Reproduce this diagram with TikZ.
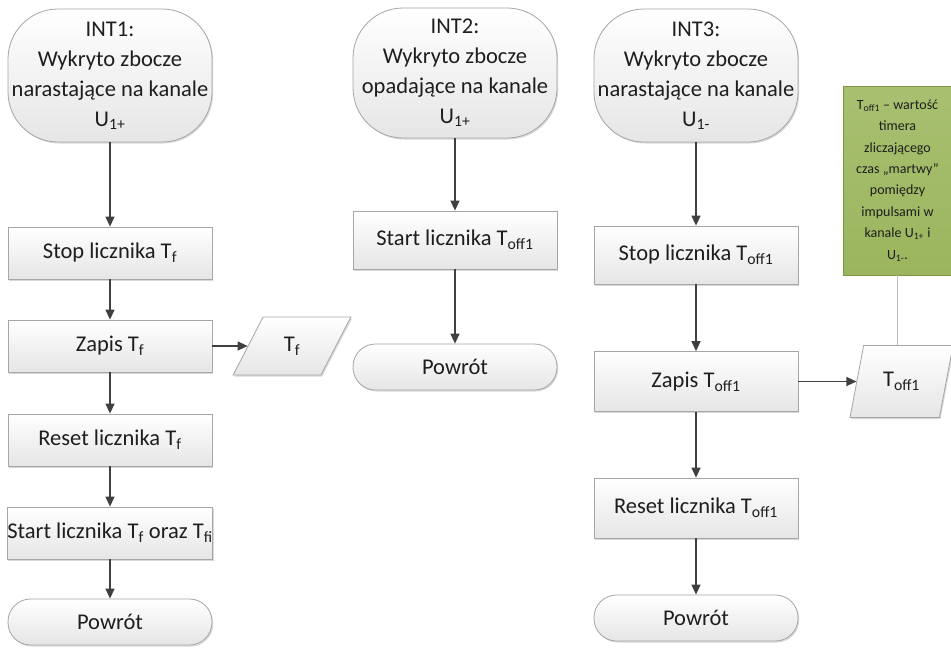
\documentclass[tikz,border=0pt]{standalone}
\usepackage{fontspec}
\setmainfont{Carlito}
\usetikzlibrary{arrows.meta,shapes.geometric,shadows}

\definecolor{edgegray}{HTML}{A6A6A6}
\definecolor{arrowgray}{HTML}{404040}
\definecolor{notegreen}{HTML}{9BB55E}
\definecolor{notegreenlight}{HTML}{A8C070}
\definecolor{noteedge}{HTML}{7D9645}
\definecolor{txt}{HTML}{1E1E1E}

\tikzset{
  base/.style={draw=edgegray, line width=0.8pt, top color=white, bottom color=black!10,
    text=txt, align=center, inner sep=0pt,
    font=\fontsize{22.5}{30}\selectfont,
    drop shadow={shadow xshift=1.2pt, shadow yshift=-1.5pt, opacity=0.25, fill=black!60}},
  procbox/.style={base, rectangle, minimum width=204pt},
  startbox/.style={base, rectangle, rounded corners=50pt, minimum width=204pt},
  endbox/.style={base, rectangle, rounded corners=22.5pt, minimum width=204pt, minimum height=45pt},
  databox/.style={base, trapezium, trapezium stretches=true},
  notebox/.style={rectangle, draw=noteedge, line width=0.8pt, top color=notegreenlight,
    bottom color=notegreen, text=txt, align=center, inner sep=0pt,
    font=\fontsize{14}{21.4}\selectfont},
  arr/.style={draw=arrowgray, line width=1.3pt, -{Triangle[length=10pt,width=9pt]}},
  noteline/.style={draw=black!25, line width=1pt}
}

\begin{document}
\begin{tikzpicture}[x=1pt,y=-1pt]
  \fill[white] (0,0) rectangle (951,649);
  \useasboundingbox (0,0) rectangle (951,649);

  % ---- INT1 handler ----
  \node[startbox, minimum height=133pt] (int1) at (110,75.5)
    {INT1:\\Wykryto zbocze\\narastające na kanale\\U\textsubscript{1+}};
  \node[procbox, minimum height=52pt] (stop1) at (110,253) {Stop licznika T\textsubscript{f}};
  \node[procbox, minimum height=52pt] (zap1) at (110,346) {Zapis T\textsubscript{f}};
  \node[databox, minimum width=118pt, minimum height=58pt,
        trapezium left angle=65, trapezium right angle=115] (tf) at (292,346) {T\textsubscript{f}};
  \node[procbox, minimum height=52pt] (res1) at (110,440) {Reset licznika T\textsubscript{f}};
  \node[procbox, minimum height=52pt] (sta1) at (110,533)
    {Start licznika T\textsubscript{f} oraz T\textsubscript{fi}};
  \node[endbox, minimum height=46pt] (ret1) at (110,622) {Powrót};

  \draw[arr] (int1) -- (stop1);
  \draw[arr] (stop1) -- (zap1);
  \draw[arr] (zap1.east) -- (zap1.east -| tf.left side);
  \draw[arr] (zap1) -- (res1);
  \draw[arr] (res1) -- (sta1);
  \draw[arr] (sta1) -- (ret1);

  % ---- INT2 handler ----
  \node[startbox, minimum height=130pt] (int2) at (455,73)
    {INT2:\\Wykryto zbocze\\opadające na kanale\\U\textsubscript{1+}};
  \node[procbox, minimum height=58pt] (sta2) at (455,240) {Start licznika T\textsubscript{off1}};
  \node[endbox, minimum height=46pt] (ret2) at (455,367) {Powrót};

  \draw[arr] (int2) -- (sta2);
  \draw[arr] (sta2) -- (ret2);

  % ---- INT3 handler ----
  \node[startbox, minimum height=133pt] (int3) at (696,75.5)
    {INT3:\\Wykryto zbocze\\narastające na kanale\\U\textsubscript{1-}};
  \node[procbox, minimum height=58pt] (stop3) at (696,255) {Stop licznika T\textsubscript{off1}};
  \node[procbox, minimum height=60pt] (zap3) at (696,381.5) {Zapis T\textsubscript{off1}};
  \node[databox, minimum width=103pt, minimum height=72pt,
        trapezium left angle=70, trapezium right angle=110] (toff) at (901.5,381.5) {T\textsubscript{off1}};
  \node[procbox, minimum height=60pt] (res3) at (696,508) {Reset licznika T\textsubscript{off1}};
  \node[endbox, minimum height=46pt] (ret3) at (696,618) {Powrót};

  \draw[arr] (int3) -- (stop3);
  \draw[arr] (stop3) -- (zap3);
  \draw[arr] (zap3.east) -- (zap3.east -| toff.left side);
  \draw[arr] (zap3) -- (res3);
  \draw[arr] (res3) -- (ret3);

  % ---- annotation ----
  \node[notebox, minimum width=109pt, minimum height=189pt] (note) at (897.5,180.5)
    {T\textsubscript{off1} – wartość\\timera\\zliczającego\\czas „martwy”\\pomiędzy\\impulsami w\\kanale U\textsubscript{1+} i\\U\textsubscript{1-}.};
  \draw[noteline] (note.south) -- (note.south |- toff.top side);
\end{tikzpicture}
\end{document}
